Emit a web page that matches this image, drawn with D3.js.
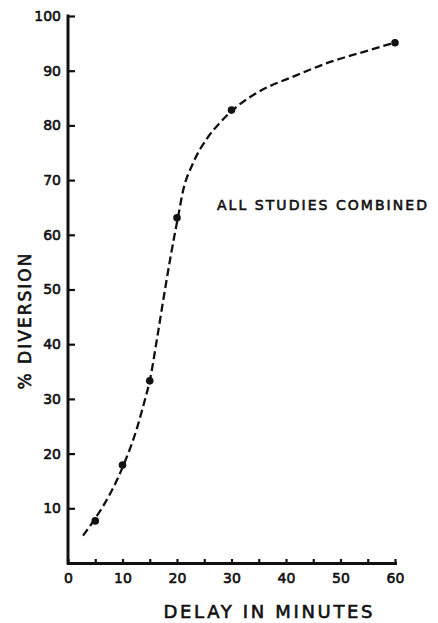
<!DOCTYPE html>
<html>
<head>
<meta charset="utf-8">
<script src="https://cdn.jsdelivr.net/npm/d3@7"></script>
<style>
  html, body { margin: 0; padding: 0; background: #fff; }
  svg { display: block; }
  text { font-family: "DejaVu Sans", sans-serif; fill: #111; }
  .axis path.domain { stroke: #111; stroke-width: 3px; stroke-linecap: square; }
  .axis .tick line { stroke: #111; stroke-width: 2.2px; }
</style>
</head>
<body>
<div id="chart"></div>
<script>
// observed study results (delay in minutes, % diversion)
const delays = [5, 10, 15, 20, 30, 60];
const diversion = [7.7, 17.9, 33.3, 63.1, 82.8, 95.1];

// hand-drawn fitted curve
const curveDelay = [2.75, 5.3, 7.7, 10.1, 12.7, 14.1, 15.0, 16.3, 17.6, 18.7, 19.5, 20.2, 21.1, 22.9, 25.5, 27.9, 30.1, 33.9, 42, 48.1, 54.1, 59.8];
const curveDiversion = [5.0, 8.6, 12.6, 17.7, 24.8, 29.8, 33.3, 40.8, 48.8, 55.3, 59.7, 63.3, 68.0, 73.0, 77.6, 80.5, 82.7, 85.5, 89.2, 91.6, 93.4, 95.1];

const xTicks = [0, 5, 10, 15, 20, 25, 30, 35, 40, 45, 50, 55, 60];
const yTicks = [10, 20, 30, 40, 50, 60, 70, 80, 90, 100];

const width = 438, height = 623;
const svg = d3.select("#chart").append("svg")
    .attr("width", width)
    .attr("height", height);

const x = d3.scaleLinear().domain([0, 60]).range([68, 395]);
const y = d3.scaleLinear().domain([0, 100]).range([563, 16]);

// axes
const yAxis = svg.append("g")
    .attr("class", "axis")
    .attr("transform", `translate(${x(0)},0)`)
    .call(d3.axisLeft(y).tickValues(yTicks).tickSizeInner(-7).tickSizeOuter(0).tickPadding(7));
yAxis.select(".domain").attr("d", `M0,${y(0)}V${y(100)}`);

const xAxis = svg.append("g")
    .attr("class", "axis")
    .attr("transform", `translate(0,${y(0)})`)
    .call(d3.axisBottom(x).tickValues(xTicks).tickSizeInner(-4).tickSizeOuter(0).tickPadding(10)
        .tickFormat(d => d % 10 === 0 ? d : ""));

svg.selectAll(".tick text")
    .style("font-family", "'DejaVu Sans', sans-serif")
    .style("font-size", "14px")
    .style("stroke", "#111")
    .style("stroke-width", "0.6px")
    .style("fill", "#111");

// axis titles
const heavy = sel => sel.attr("stroke", "#111").attr("stroke-width", 0.6);

svg.append("text")
    .attr("transform", `translate(31,${(y(0) + y(100)) / 2 + 32}) rotate(-90)`)
    .attr("text-anchor", "middle")
    .attr("font-size", 17)
    .attr("textLength", 136)
    .call(heavy)
    .text("% DIVERSION");

svg.append("text")
    .attr("x", 268)
    .attr("y", 618)
    .attr("text-anchor", "middle")
    .attr("font-size", 18)
    .attr("textLength", 209)
    .call(heavy)
    .text("DELAY IN MINUTES");

svg.append("text")
    .attr("x", 217)
    .attr("y", 210)
    .attr("font-size", 14)
    .attr("textLength", 210)
    .call(heavy)
    .text("ALL STUDIES COMBINED");

// fitted dashed curve
const curvePts = curveDelay.map((d, i) => [d, curveDiversion[i]]);
const line = d3.line()
    .x(d => x(d[0]))
    .y(d => y(d[1]))
    .curve(d3.curveMonotoneX);

svg.append("path")
    .datum(curvePts)
    .attr("d", line)
    .attr("fill", "none")
    .attr("stroke", "#111")
    .attr("stroke-width", 2.3)
    .attr("stroke-dasharray", "8,4");

// data points
svg.selectAll("circle.pt")
    .data(delays.map((d, i) => [d, diversion[i]]))
    .enter()
    .append("circle")
    .attr("class", "pt")
    .attr("cx", d => x(d[0]))
    .attr("cy", d => y(d[1]))
    .attr("r", 3.8)
    .attr("fill", "#111");
</script>
</body>
</html>
